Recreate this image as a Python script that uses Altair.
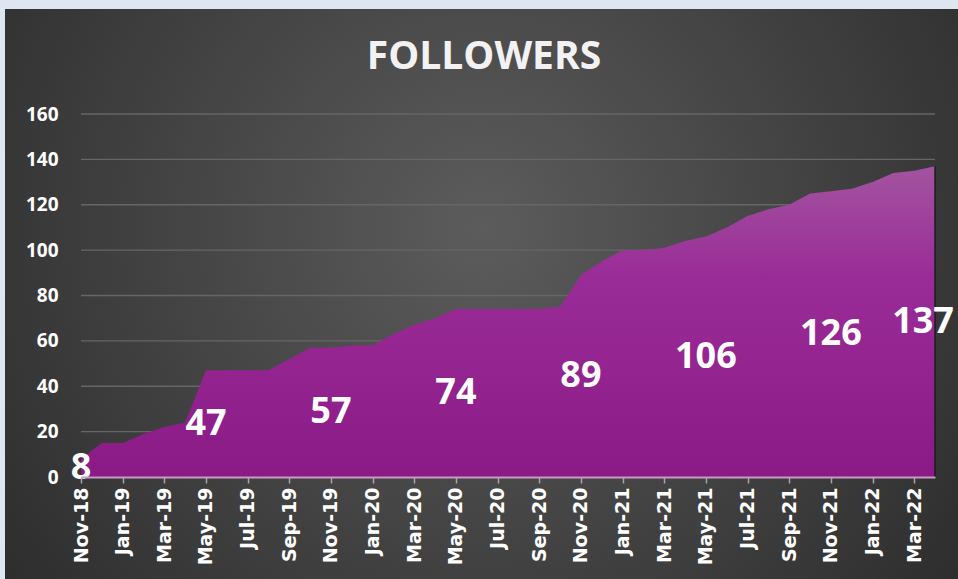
import altair as alt
import pandas as pd

months = ["Nov-18", "Dec-18", "Jan-19", "Feb-19", "Mar-19", "Apr-19", "May-19", "Jun-19",
          "Jul-19", "Aug-19", "Sep-19", "Oct-19", "Nov-19", "Dec-19", "Jan-20", "Feb-20",
          "Mar-20", "Apr-20", "May-20", "Jun-20", "Jul-20", "Aug-20", "Sep-20", "Oct-20",
          "Nov-20", "Dec-20", "Jan-21", "Feb-21", "Mar-21", "Apr-21", "May-21", "Jun-21",
          "Jul-21", "Aug-21", "Sep-21", "Oct-21", "Nov-21", "Dec-21", "Jan-22", "Feb-22",
          "Mar-22", "Apr-22"]
followers = [8, 15, 15, 19, 22, 24, 47, 47, 47, 47, 52, 57, 57, 58, 58, 63, 67, 70, 74, 74,
             74, 74, 74, 75, 89, 95, 100, 100, 101, 104, 106, 110, 115, 118, 120, 125, 126,
             127, 130, 134, 135, 137]
tick_labels = ["Nov-18", "Jan-19", "Mar-19", "May-19", "Jul-19", "Sep-19", "Nov-19", "Jan-20",
               "Mar-20", "May-20", "Jul-20", "Sep-20", "Nov-20", "Jan-21", "Mar-21", "May-21",
               "Jul-21", "Sep-21", "Nov-21", "Jan-22", "Mar-22"]
y_ticks = [0, 20, 40, 60, 80, 100, 120, 140, 160]
grid_values = [20, 40, 60, 80, 100, 120, 140, 160]
labeled_months = ["Nov-18", "May-19", "Nov-19", "May-20", "Nov-20", "May-21", "Nov-21"]
last_month = "Apr-22"
title_text = "FOLLOWERS"

W, H = 854, 363
PAD = {"left": 81, "top": 114, "right": 23, "bottom": 102}

df = pd.DataFrame({"month": months, "followers": followers})

x_enc = alt.X(
    "month:O", sort=months,
    scale=alt.Scale(type="point", padding=0),
    axis=alt.Axis(values=tick_labels, title=None, labelAngle=-90,
                  labelFont="DejaVu Sans", labelFontWeight="bold", labelFontSize=19,
                  labelColor="#ffffff", labelPadding=4,
                  tickColor="#a6a6a6", tickSize=6, tickWidth=1.5,
                  domainColor="#c79ac7", domainWidth=2, grid=False, zindex=1),
)
y_scale = alt.Scale(domain=[0, 160], nice=False)
y_axis = alt.Axis(values=y_ticks, title=None, domain=False, ticks=False, grid=False,
                  labelFont="Open Sans", labelFontWeight="bold", labelFontSize=19,
                  labelColor="#ffffff", labelPadding=23, zindex=1)

bg = alt.Chart(alt.Data(values=[{"a": 1}])).mark_rect(
    fill=alt.Gradient(
        gradient="radial",
        stops=[alt.GradientStop(offset=0, color="#5c5c5c"),
               alt.GradientStop(offset=1, color="#262626")],
        x1=0.5, y1=0.43, x2=0.5, y2=0.43, r1=0, r2=0.72),
    strokeWidth=0,
).encode(
    x=alt.value(5 - PAD["left"]), x2=alt.value(W + PAD["right"]),
    y=alt.value(9 - PAD["top"]), y2=alt.value(H + PAD["bottom"]),
)

grid = alt.Chart(pd.DataFrame({"followers": grid_values})).mark_rule(
    color="#666666", strokeWidth=1.3
).encode(
    y=alt.Y("followers:Q", scale=y_scale, axis=y_axis),
    x=alt.value(0), x2=alt.value(W),
)

area = alt.Chart(df).mark_area(
    fill=alt.Gradient(
        gradient="linear",
        stops=[alt.GradientStop(offset=0, color="#a2549f"),
               alt.GradientStop(offset=0.35, color="#9a2c98"),
               alt.GradientStop(offset=1, color="#8a1a86")],
        x1=0, y1=0, x2=0, y2=1),
    interpolate="linear",
).encode(
    x=x_enc,
    y=alt.Y("followers:Q", scale=y_scale, axis=y_axis),
)

shadow = alt.Chart(df).mark_rule(color="#1a1a1a", strokeWidth=2, opacity=0.7).transform_filter(
    alt.datum.month == last_month
).encode(
    x=x_enc, y=alt.Y("followers:Q", scale=y_scale, axis=y_axis), y2=alt.datum(0),
)

text_style = dict(font="Open Sans", fontWeight="bold", fontSize=36, color="#ffffff",
                  align="center", baseline="middle")

labels = alt.Chart(df).transform_filter(
    alt.FieldOneOfPredicate(field="month", oneOf=labeled_months)
).transform_calculate(half="datum.followers / 2").mark_text(**text_style).encode(
    x=alt.X("month:O", sort=months), y=alt.Y("half:Q", scale=y_scale, axis=y_axis),
    text="followers:Q",
)

last_label = alt.Chart(df).transform_filter(
    alt.datum.month == last_month
).transform_calculate(half="datum.followers / 2").mark_text(dx=-12, **text_style).encode(
    x=alt.X("month:O", sort=months), y=alt.Y("half:Q", scale=y_scale, axis=y_axis),
    text="followers:Q",
)

title = alt.Chart(alt.Data(values=[{"a": 1}])).mark_text(
    text=title_text, font="Open Sans", fontWeight="bold", fontSize=39, color="#f2f2f2",
    align="center", baseline="middle",
).encode(x=alt.value(484 - PAD["left"]), y=alt.value(57 - PAD["top"]))

chart = alt.layer(bg, grid, area, shadow, labels, last_label, title).properties(
    width=W, height=H,
    autosize=alt.AutoSizeParams(type="none"),
    padding=PAD,
    background="#dde6f1",
).configure_view(stroke=None)

chart.save("out.html", embed_options={"renderer": "svg", "actions": False})
